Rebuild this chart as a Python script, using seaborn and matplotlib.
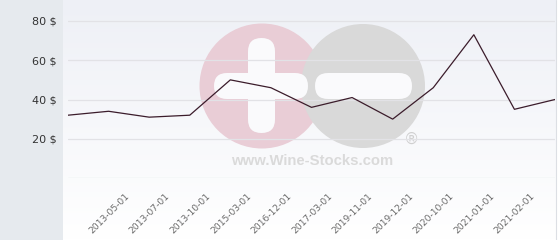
import numpy as np
import pandas as pd
import matplotlib
matplotlib.use("Agg")
import matplotlib.pyplot as plt
import seaborn as sns
from matplotlib.patches import Circle, FancyBboxPatch, Rectangle
from matplotlib.transforms import ScaledTranslation

# ---- data ----
positions = list(range(13))
prices = [32, 34, 31, 32, 50, 46, 36, 41, 30, 46, 73, 35, 40]
tick_positions = list(range(1, 12))
tick_labels = ["2013-05-01", "2013-07-01", "2013-10-01", "2015-03-01", "2016-12-01",
               "2017-03-01", "2019-11-01", "2019-12-01", "2020-10-01", "2021-01-01",
               "2021-02-01"]
y_ticks = [20, 40, 60, 80]
y_tick_labels = ["20 $", "40 $", "60 $", "80 $"]

sns.set_theme(style="white")
plt.rcParams['font.family'] = ['DejaVu Sans']

W, H, DPI = 560, 240, 100
fig = plt.figure(figsize=(W / DPI, H / DPI), dpi=DPI)
fig.patch.set_facecolor("white")

# background layer in pixel coordinates
bg = fig.add_axes([0, 0, 1, 1], zorder=0)
bg.set_xlim(0, W)
bg.set_ylim(H, 0)
bg.axis("off")
grad = np.linspace(0, 1, 240)[:, None]
top = np.array([238, 240, 246]) / 255
bot = np.array([255, 255, 255]) / 255
img = top[None, None, :] * (1 - grad[..., None]) + bot[None, None, :] * grad[..., None]
bg.imshow(img, extent=[63, 556, 240, 0], aspect="auto", zorder=0)
bg.add_patch(Rectangle((0, 0), 63, 240, color="#e6eaee", zorder=1, lw=0))
bg.plot([556, 556], [0, 240], color="#dcdfe4", lw=0.8, zorder=1)

# watermark
pink = "#e9cdd6"
grey = "#d9d9d9"
white = "#fafafc"
bg.add_patch(Circle((262, 86), 62.5, color=pink, lw=0, zorder=2))
bg.add_patch(Circle((363, 86), 62, color=grey, lw=0, zorder=3))
bg.add_patch(FancyBboxPatch((214, 73), 94, 26, boxstyle="round,pad=0,rounding_size=13",
                            color=white, lw=0, zorder=4))
bg.add_patch(FancyBboxPatch((248, 38), 27, 95, boxstyle="round,pad=0,rounding_size=13.5",
                            color=white, lw=0, zorder=4))
bg.add_patch(FancyBboxPatch((315, 73), 97, 26, boxstyle="round,pad=0,rounding_size=13",
                            color=white, lw=0, zorder=4))
bg.text(412, 139, "®", fontsize=11, color="#d0d0d0", ha="center", va="center", zorder=5)
bg.text(312, 161, "www.Wine-Stocks.com", fontsize=10.7, fontweight="bold", color="#dadada",
        family=["Liberation Sans"], ha="center", va="center", zorder=5)

# main axes
x0, x1 = 68, 555
ybase = 178
px_per_unit = 1.9625
ymax = ybase / px_per_unit
ax = fig.add_axes([x0 / W, (H - ybase) / H, (x1 - x0) / W, ybase / H], zorder=2)
ax.patch.set_alpha(0)

df = pd.DataFrame({"pos": positions, "price": prices})
sns.lineplot(data=df, x="pos", y="price", ax=ax, color="#3b1c2b", linewidth=0.9, zorder=5)

ax.set_xlim(positions[0], positions[-1])
ax.set_ylim(0, ymax)
for v in [0] + y_ticks:
    ax.axhline(v, color="#e2e2e6" if v else "#dadde2", lw=0.9, zorder=1)
for s in ax.spines.values():
    s.set_visible(False)
ax.set_xlabel("")
ax.set_ylabel("")
ax.set_yticks(y_ticks)
ax.set_yticklabels(y_tick_labels, fontsize=8, color="#333333")
ax.tick_params(axis="y", length=0, pad=8)
ax.set_xticks(tick_positions)
ax.set_xticklabels(tick_labels, rotation=45, ha="right", va="top",
                   rotation_mode="anchor", fontsize=6.6, color="#6a6a6a")
ax.tick_params(axis="x", length=0, pad=10)
off = ScaledTranslation(16 / DPI, 0, fig.dpi_scale_trans)
for lab in ax.get_xticklabels():
    lab.set_transform(lab.get_transform() + off)

fig.savefig("out.png", dpi=DPI)
